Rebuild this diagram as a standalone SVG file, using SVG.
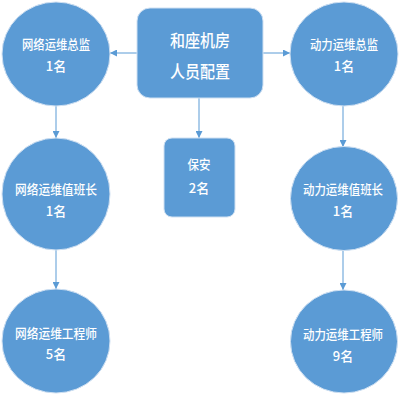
<svg xmlns="http://www.w3.org/2000/svg" width="400" height="400" viewBox="0 0 400 400">
<defs>
<style>
.n{fill:#5B9BD5;stroke:#cfe0f2;stroke-width:1}
.t{fill:#ffffff;font-family:"Noto Sans CJK SC","Noto Sans",sans-serif;font-size:13px;font-weight:500;text-anchor:middle;dominant-baseline:central}
.c{stroke:#5B9BD5;stroke-width:1;fill:none;marker-end:url(#ah)}
</style>
<marker id="ah" viewBox="0 0 10 10" refX="10" refY="5" markerWidth="7" markerHeight="7" markerUnits="userSpaceOnUse" orient="auto">
<path d="M0,0 L10,5 L0,10 z" fill="#5B9BD5"/>
</marker>
</defs>
<rect width="400" height="400" fill="#ffffff"/>
<g id="connectors">
<line class="c" x1="137" y1="53" x2="110" y2="53"/>
<line class="c" x1="263" y1="53" x2="290" y2="53"/>
<line class="c" x1="199" y1="98" x2="199" y2="138"/>
<line class="c" x1="56" y1="106" x2="56" y2="138"/>
<line class="c" x1="56" y1="250" x2="56" y2="289"/>
<line class="c" x1="343" y1="106" x2="343" y2="147"/>
<line class="c" x1="343" y1="250" x2="343" y2="290"/>
</g>
<g id="center">
<rect class="n" x="137" y="8" width="126" height="90" rx="13"/>
<text class="t" x="200" y="39" style="font-size:17px" textLength="60" lengthAdjust="spacingAndGlyphs">和座机房</text>
<text class="t" x="200" y="70" style="font-size:17px" textLength="60" lengthAdjust="spacingAndGlyphs">人员配置</text>
</g>
<g id="net-director">
<ellipse class="n" cx="56" cy="54" rx="54" ry="52"/>
<text class="t" x="56" y="43" textLength="68" lengthAdjust="spacingAndGlyphs">网络运维总监</text>
<text class="t" x="56" y="65">1名</text>
</g>
<g id="power-director">
<ellipse class="n" cx="344" cy="54" rx="54" ry="52"/>
<text class="t" x="344" y="43" textLength="68" lengthAdjust="spacingAndGlyphs">动力运维总监</text>
<text class="t" x="344" y="65">1名</text>
</g>
<g id="security">
<rect class="n" x="164" y="138" width="71" height="79" rx="8"/>
<text class="t" x="199" y="163" textLength="23" lengthAdjust="spacingAndGlyphs">保安</text>
<text class="t" x="199" y="187">2名</text>
</g>
<g id="net-shift">
<ellipse class="n" cx="56" cy="194" rx="54" ry="56"/>
<text class="t" x="56" y="188" textLength="82" lengthAdjust="spacingAndGlyphs">网络运维值班长</text>
<text class="t" x="56" y="210">1名</text>
</g>
<g id="power-shift">
<ellipse class="n" cx="344" cy="198.5" rx="53.5" ry="52"/>
<text class="t" x="343" y="188" textLength="80" lengthAdjust="spacingAndGlyphs">动力运维值班长</text>
<text class="t" x="343" y="210">1名</text>
</g>
<g id="net-engineer">
<ellipse class="n" cx="56" cy="341" rx="54" ry="52"/>
<text class="t" x="56" y="332" textLength="82" lengthAdjust="spacingAndGlyphs">网络运维工程师</text>
<text class="t" x="56" y="353">5名</text>
</g>
<g id="power-engineer">
<ellipse class="n" cx="344" cy="341.5" rx="53.5" ry="51.5"/>
<text class="t" x="343" y="333" textLength="80" lengthAdjust="spacingAndGlyphs">动力运维工程师</text>
<text class="t" x="343" y="355">9名</text>
</g>
</svg>
